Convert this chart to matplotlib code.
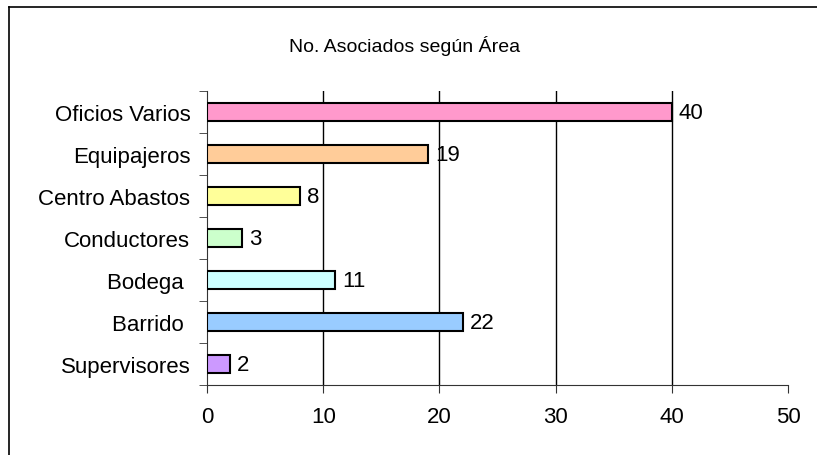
import matplotlib.pyplot as plt
from matplotlib.lines import Line2D
import numpy as np

plt.rcParams['font.family'] = ['Liberation Sans', 'DejaVu Sans']

areas = ['Oficios Varios', 'Equipajeros', 'Centro Abastos', 'Conductores',
         'Bodega ', 'Barrido ', 'Supervisores']
asociados = [40, 19, 8, 3, 11, 22, 2]
colores = ['#FF99CC', '#FFCC99', '#FFFF99', '#CCFFCC', '#CCFFFF', '#99CCFF', '#CC99FF']
xticks = [0, 10, 20, 30, 40, 50]

fig = plt.figure(figsize=(8.17, 4.56), dpi=100)
ax = fig.add_axes([0.2534, 0.1535, 0.7111, 0.6447])

y = np.arange(len(areas))[::-1]
ax.barh(y, asociados, height=0.42, color=colores, edgecolor='black', linewidth=1.5, zorder=3)

for yi, v in zip(y, asociados):
    ax.text(v + 0.6, yi, str(v), va='center', ha='left', fontsize=16)

ax.set_xlim(0, 50)
ax.set_ylim(-0.5, len(areas) - 0.5)
ax.set_xticks(xticks)
ax.set_xticklabels([str(t) for t in xticks], fontsize=16)
ax.set_yticks(y)
ax.set_yticklabels(areas, fontsize=16)
ax.tick_params(axis='y', length=0, pad=12)
ax.set_yticks(np.arange(len(areas) + 1) - 0.5, minor=True)
ax.tick_params(axis='y', which='minor', length=6, direction='out', color='#333333')
ax.tick_params(axis='x', length=6, direction='out', pad=9, color='#333333')

for t in xticks[1:-1]:
    ax.axvline(t, color='black', linewidth=1, zorder=1)

ax.spines['top'].set_visible(False)
ax.spines['right'].set_visible(False)
ax.spines['left'].set_color('#333333')
ax.spines['bottom'].set_color('#333333')

fig.text(0.495, 0.9, 'No. Asociados según Área', ha='center', va='center', fontsize=14)

# marco del gráfico (solo izquierda y arriba visibles)
fig.add_artist(Line2D([9 / 817, 9 / 817], [0, 1 - 8 / 456], color='black', linewidth=1.2))
fig.add_artist(Line2D([9 / 817, 1], [1 - 8 / 456, 1 - 8 / 456], color='black', linewidth=1.2))

fig.savefig('out.png', dpi=100)
